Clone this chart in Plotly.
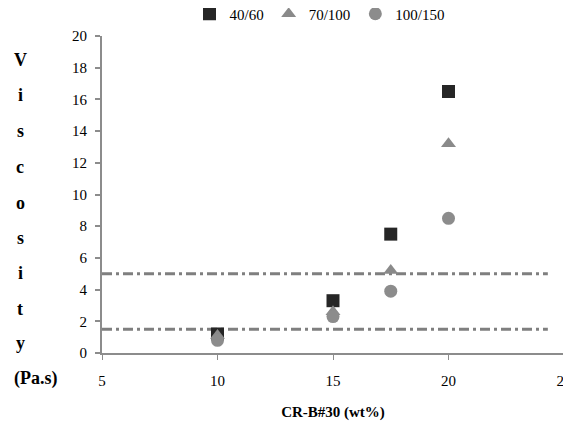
import plotly.graph_objects as go

x_vals = [10, 15, 17.5, 20]
series_names = ["40/60", "70/100", "100/150"]
v_40_60 = [1.2, 3.3, 7.5, 16.5]
v_70_100 = [1.1, 2.6, 5.2, 13.2]
v_100_150 = [0.8, 2.3, 3.9, 8.5]
limit_levels = [5, 1.5]
limit_x = [5, 24.3]
x_ticks = [5, 10, 15, 20, 25]
y_ticks = [0, 2, 4, 6, 8, 10, 12, 14, 16, 18, 20]
y_title_letters = list("Viscosity")
y_title_unit = "(Pa.s)"

FONT = "Liberation Serif"
OFF = 8  # page body margin
W, H = 571 - OFF, 429 - OFF
L, T = 102 - OFF, 36 - OFF
R = W - (564 - OFF)
B = H - (353 - OFF)
PH = H - T - B
PW = W - L - R

fig = go.Figure()

for lvl in limit_levels:
    fig.add_trace(go.Scatter(
        x=limit_x, y=[lvl, lvl], mode="lines", showlegend=False, hoverinfo="skip",
        line=dict(color="#7f7f7f", width=3, dash="10px,4px,3px,4px")))

styles = [
    dict(symbol="square", color="#262626", size=13),
    dict(symbol="triangle-up", color="#8a8a8a", size=13),
    dict(symbol="circle", color="#8c8c8c", size=13),
]
for name, vals, st in zip(series_names, [v_40_60, v_70_100, v_100_150], styles):
    fig.add_trace(go.Scatter(
        x=x_vals, y=vals, mode="markers", name=name,
        marker=dict(symbol=st["symbol"], color=st["color"], size=st["size"])))


def py(ref_y):
    return (H - B - (ref_y - OFF)) / PH


def px(ref_x):
    return (ref_x - OFF - L) / PW


fig.update_layout(
    width=W, height=H,
    margin=dict(l=L, r=R, t=T, b=B, autoexpand=False),
    paper_bgcolor="white", plot_bgcolor="white",
    font=dict(family=FONT, size=15, color="black"),
    legend=dict(orientation="h", x=px(320), xanchor="center", y=py(14),
                yanchor="middle", font=dict(family=FONT, size=15), tracegroupgap=0),
    showlegend=True,
)
fig.update_xaxes(
    range=[5, 25], tickvals=x_ticks, showgrid=False, zeroline=False,
    showline=True, linecolor="#8c8c8c", linewidth=2,
    ticks="outside", ticklen=5, tickcolor="#8c8c8c", tickwidth=1,
    ticklabelstandoff=8, ticklabeloverflow="allow",
    tickfont=dict(family=FONT, size=15),
    title=dict(text="<b>CR-B#30 (wt%)</b>", font=dict(family=FONT, size=15), standoff=18),
)
fig.update_yaxes(
    range=[0, 20], tickvals=y_ticks, showgrid=False, zeroline=False,
    showline=True, linecolor="#8c8c8c", linewidth=2,
    ticks="outside", ticklen=5, tickcolor="#8c8c8c", tickwidth=2,
    ticklabelstandoff=5,
    tickfont=dict(family=FONT, size=15),
)

letter_y = [60, 95, 131, 167, 203, 238, 273, 309, 343]
for c, ly in zip(y_title_letters, letter_y):
    fig.add_annotation(
        text=f"<b>{c}</b>", xref="paper", yref="paper", x=px(20), y=py(ly),
        xanchor="center", yanchor="middle", showarrow=False,
        font=dict(family=FONT, size=18))
fig.add_annotation(
    text=f"<b>{y_title_unit}</b>", xref="paper", yref="paper", x=px(36), y=py(378),
    xanchor="center", yanchor="middle", showarrow=False, font=dict(family=FONT, size=18))

fig.write_html("out.html")
